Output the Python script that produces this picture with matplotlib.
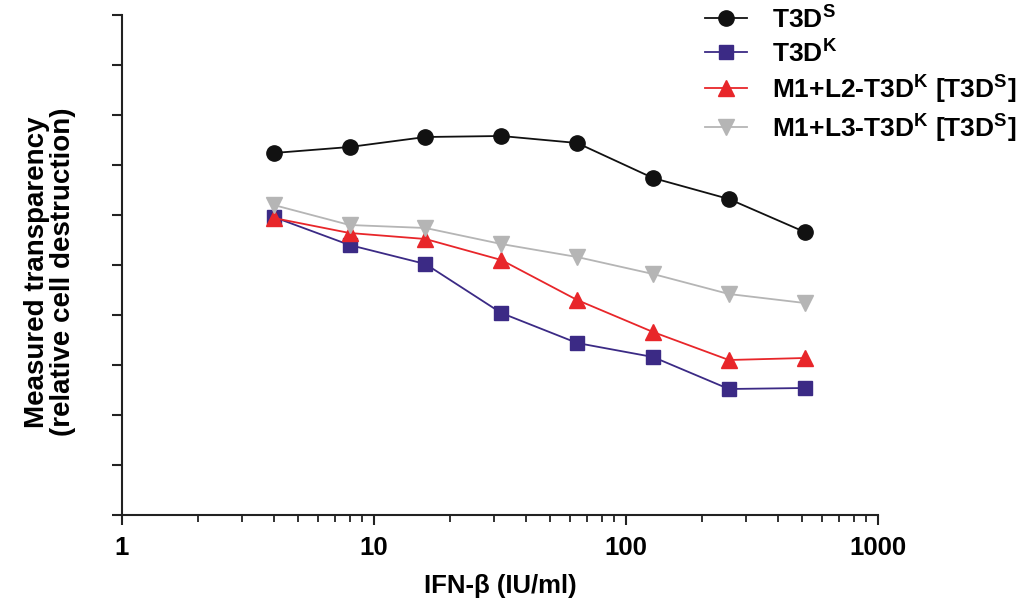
import numpy as np
import matplotlib
matplotlib.use('Agg')
import matplotlib.pyplot as plt
from matplotlib.ticker import LogLocator, NullFormatter, FixedLocator

plt.rcParams['font.family'] = ['Liberation Sans', 'DejaVu Sans']
plt.rcParams['font.weight'] = 'bold'
plt.rcParams['mathtext.fontset'] = 'custom'
plt.rcParams['mathtext.rm'] = 'Liberation Sans:bold'
plt.rcParams['mathtext.bf'] = 'Liberation Sans:bold'

# IFN-beta dose (IU/ml)
dose = [4, 8, 16, 32, 64, 128, 256, 512]

# measured transparency (arbitrary units, axis 0-100)
t3d_s = [72.4, 73.6, 75.6, 75.8, 74.4, 67.4, 63.2, 56.6]
t3d_k = [59.6, 54.0, 50.2, 40.4, 34.4, 31.6, 25.2, 25.4]
m1_l2 = [59.4, 56.4, 55.2, 51.0, 43.0, 36.6, 31.0, 31.4]
m1_l3 = [62.0, 58.0, 57.4, 54.2, 51.6, 48.2, 44.2, 42.4]

labels = [r'T3D$^{\mathbf{S}}$',
          r'T3D$^{\mathbf{K}}$',
          r'M1+L2-T3D$^{\mathbf{K}}$ [T3D$^{\mathbf{S}}$]',
          r'M1+L3-T3D$^{\mathbf{K}}$ [T3D$^{\mathbf{S}}$]']

fs = 18.5

fig = plt.figure(figsize=(10.25, 6.03), dpi=100)
ax = fig.add_axes([122/1025, 88/603, 756/1025, 500/603])

ax.plot(dose, t3d_s, color='#111111', marker='o', ms=11, lw=1.3, label=labels[0])
ax.plot(dose, t3d_k, color='#3b2a85', marker='s', ms=10, lw=1.3, label=labels[1])
ax.plot(dose, m1_l2, color='#e8262a', marker='^', ms=11, lw=1.3, label=labels[2])
ax.plot(dose, m1_l3, color='#b5b5b5', marker='v', ms=11, lw=1.3, label=labels[3])

ax.set_xscale('log')
ax.set_xlim(1, 1000)
ax.set_ylim(0, 100)
ax.set_xticks([1, 10, 100, 1000])
ax.set_xticklabels(['1', '10', '100', '1000'])
ax.xaxis.set_minor_locator(LogLocator(base=10, subs=np.arange(2, 10)))
ax.xaxis.set_minor_formatter(NullFormatter())
ax.yaxis.set_major_locator(FixedLocator(np.arange(0, 101, 10)))
ax.set_yticklabels([])

for s in ['top', 'right']:
    ax.spines[s].set_visible(False)
for s in ['left', 'bottom']:
    ax.spines[s].set_linewidth(1.5)
    ax.spines[s].set_color('#222222')

ax.tick_params(axis='both', which='major', length=7, width=1.5, color='#222222',
               labelsize=fs, pad=8)
ax.tick_params(axis='x', which='minor', length=5, width=1.3, color='#222222')
for t in ax.get_xticklabels():
    t.set_fontweight('bold')

ax.set_xlabel('IFN-β (IU/ml)', fontsize=fs, fontweight='bold', labelpad=10)
fig.text(50/1025, 1 - 272/603, 'Measured transparency\n(relative cell destruction)',
         rotation=90, ha='center', va='center', fontsize=20, fontweight='bold',
         linespacing=1.02)

leg = fig.legend(loc='upper left', bbox_to_anchor=(705/1025, 0.992), frameon=False,
                 prop={'size': 19, 'weight': 'bold'}, handlelength=1.6,
                 handletextpad=0.92, labelspacing=0.22, borderpad=0,
                 borderaxespad=0)

fig.savefig('out.png', dpi=100)
